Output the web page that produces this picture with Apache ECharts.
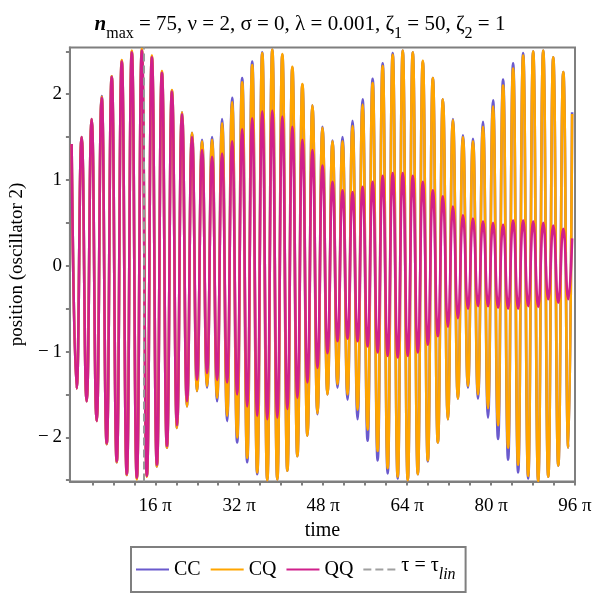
<!DOCTYPE html>
<html>
<head>
<meta charset="utf-8">
<script src="https://cdn.jsdelivr.net/npm/echarts@6/dist/echarts.min.js"></script>
<style>
html, body { margin: 0; padding: 0; background: #fff; }
#chart { width: 600px; height: 600px; }
</style>
</head>
<body>
<div id="chart"></div>
<script>
// time is in units of pi; each series is given by its successive maxima / minima
var halfPeriod = 0.9563;
var tFirst = 0.05;
var tLast = 95.45;      // last sample (curve ends while rising)
var tauLin = 13.74;     // dashed marker

var ccPeaks = [1.42, 1.50, 1.71, 1.98, 2.21, 2.39, 2.50, 2.52, 2.44, 2.26,
               2.04, 1.79, 1.55, 1.47, 1.50, 1.71, 1.96, 2.19, 2.38, 2.49,
               2.52, 2.46, 2.31, 2.11, 1.87, 1.62, 1.46, 1.50, 1.69, 1.94,
               2.18, 2.36, 2.48, 2.51, 2.49, 2.38, 2.19, 1.94, 1.71, 1.52,
               1.48, 1.68, 1.93, 2.17, 2.36, 2.48, 2.50, 2.51, 2.43, 2.26,
               1.79];
var ccTroughs = [-1.43, -1.58, -1.81, -2.08, -2.29, -2.44, -2.48, -2.45, -2.34, -2.12,
                 -1.89, -1.64, -1.46, -1.42, -1.58, -1.81, -2.06, -2.29, -2.43, -2.50,
                 -2.49, -2.39, -2.22, -1.98, -1.73, -1.50, -1.42, -1.56, -1.79, -2.04,
                 -2.27, -2.42, -2.48, -2.50, -2.43, -2.28, -2.06, -1.79, -1.55, -1.42,
                 -1.55, -1.77, -2.02, -2.26, -2.41, -2.48, -2.51, -2.46, -2.33, -2.12];

var cqPeaks = [1.42, 1.50, 1.71, 1.97, 2.21, 2.40, 2.51, 2.53, 2.45, 2.27,
               2.05, 1.79, 1.55, 1.45, 1.47, 1.66, 1.91, 2.14, 2.34, 2.48,
               2.52, 2.47, 2.32, 2.12, 1.87, 1.61, 1.45, 1.45, 1.63, 1.88,
               2.13, 2.33, 2.46, 2.51, 2.49, 2.39, 2.19, 1.94, 1.70, 1.50,
               1.45, 1.62, 1.86, 2.10, 2.30, 2.45, 2.50, 2.51, 2.43, 2.26,
               1.77];
var cqTroughs = [-1.43, -1.58, -1.81, -2.08, -2.29, -2.44, -2.49, -2.46, -2.34, -2.12,
                 -1.89, -1.64, -1.46, -1.40, -1.54, -1.75, -2.00, -2.24, -2.41, -2.50,
                 -2.49, -2.39, -2.22, -1.98, -1.72, -1.50, -1.38, -1.50, -1.68, -1.91,
                 -2.16, -2.36, -2.46, -2.50, -2.43, -2.27, -2.06, -1.79, -1.55, -1.40,
                 -1.50, -1.66, -1.86, -2.12, -2.32, -2.45, -2.51, -2.46, -2.33, -2.12];

var qqPeaks = [1.42, 1.50, 1.71, 1.96, 2.20, 2.38, 2.49, 2.51, 2.43, 2.25,
               2.03, 1.77, 1.50, 1.35, 1.27, 1.31, 1.45, 1.59, 1.72, 1.80,
               1.81, 1.74, 1.62, 1.47, 1.35, 1.17, 0.98, 0.88, 0.86, 0.92,
               0.98, 1.05, 1.08, 1.08, 1.05, 0.98, 0.88, 0.81, 0.69, 0.59,
               0.55, 0.52, 0.50, 0.48, 0.53, 0.53, 0.52, 0.50, 0.47, 0.43,
               0.32];
var qqTroughs = [-1.43, -1.58, -1.81, -2.07, -2.28, -2.43, -2.47, -2.45, -2.32, -2.10,
                 -1.86, -1.58, -1.33, -1.25, -1.33, -1.36, -1.50, -1.64, -1.75, -1.79,
                 -1.77, -1.67, -1.54, -1.36, -1.19, -1.02, -0.88, -0.85, -0.88, -0.94,
                 -1.01, -1.05, -1.07, -1.05, -1.01, -0.92, -0.82, -0.71, -0.61, -0.50,
                 -0.47, -0.47, -0.49, -0.50, -0.50, -0.47, -0.48, -0.39, -0.43, -0.39];

var xTicks = [4, 8, 12, 16, 20, 24, 28, 32, 36, 40, 44, 48, 52, 56, 60, 64, 68, 72, 76, 80, 84, 88, 92, 96];
var xLabels = [16, 32, 48, 64, 80, 96];
var yTicks = [-2.5, -2, -1.5, -1, -0.5, 0, 0.5, 1, 1.5, 2, 2.5];
var yLabels = [-2, -1, 0, 1, 2];

var serif = '"Liberation Serif", "DejaVu Serif", serif';
var axisGrey = '#7f7f7f';
var tauName = 'τ = τ_lin';

function buildPoints(peaks, troughs) {
    var pts = [];
    for (var k = 0; k < troughs.length; k++) {
        pts.push([tFirst + 2 * k * halfPeriod, peaks[k]]);
        pts.push([tFirst + (2 * k + 1) * halfPeriod, troughs[k]]);
    }
    pts.push([tLast, peaks[peaks.length - 1]]);
    return pts;
}

function curve(name, color, peaks, troughs) {
    return {
        name: name,
        type: 'line',
        data: buildPoints(peaks, troughs),
        symbol: 'none',
        smooth: 0.5,
        smoothMonotone: 'x',
        lineStyle: { color: color, width: 2.6 },
        itemStyle: { color: color },
        emphasis: { disabled: true }
    };
}

var chart = echarts.init(document.getElementById('chart'), null, { renderer: 'canvas' });

var option = {
    animation: false,
    backgroundColor: '#fff',
    title: {
        left: 'center',
        top: 9,
        text: '{n|n}{s|max}{t| = 75, ν = 2, σ = 0, λ = 0.001, ζ}{s|1}{t| = 50, ζ}{s|2}{t| = 1}',
        textStyle: {
            fontWeight: 'normal',
            rich: {
                n: { fontFamily: serif, fontSize: 21, fontStyle: 'italic', fontWeight: 'bold', color: '#000', verticalAlign: 'top' },
                t: { fontFamily: serif, fontSize: 21, fontWeight: 'normal', color: '#000', verticalAlign: 'top' },
                s: { fontFamily: serif, fontSize: 16, fontWeight: 'normal', color: '#000', verticalAlign: 'top', padding: [12, 0, 0, 0] }
            }
        }
    },
    grid: {
        left: 68, right: 25, top: 47.5, bottom: 118.5,
        show: true, borderColor: axisGrey, borderWidth: 2, backgroundColor: 'transparent'
    },
    legend: {
        left: 131, top: 547,
        data: ['CC', 'CQ', 'QQ', tauName],
        itemWidth: 33, itemHeight: 12, itemGap: 9,
        padding: [9, 10, 9, 4],
        borderColor: axisGrey, borderWidth: 2,
        lineStyle: { width: 2 },
        itemStyle: { opacity: 0 },
        selectedMode: false,
        formatter: function (name) {
            if (name === tauName) return '{a|τ = τ}{i|lin}';
            return '{a|' + name + '}';
        },
        textStyle: {
            rich: {
                a: { fontFamily: serif, fontSize: 20, color: '#000', verticalAlign: 'top' },
                i: { fontFamily: serif, fontSize: 16, fontStyle: 'italic', color: '#000', verticalAlign: 'top', padding: [11, 0, 0, 0] }
            }
        }
    },
    xAxis: {
        type: 'value',
        min: -0.27, max: 96,
        name: 'time',
        nameLocation: 'middle',
        nameGap: 38,
        nameTextStyle: { fontFamily: serif, fontSize: 20, color: '#000' },
        axisLine: { onZero: false, lineStyle: { color: axisGrey, width: 2 } },
        axisTick: { show: true, inside: false, length: 4, customValues: xTicks, lineStyle: { color: axisGrey, width: 2 } },
        axisLabel: {
            customValues: xLabels,
            margin: 15,
            fontFamily: serif, fontSize: 19, color: '#000',
            formatter: function (v) { return v + ' π'; }
        },
        splitLine: { show: false }
    },
    yAxis: {
        type: 'value',
        min: -2.515, max: 2.545,
        name: 'position (oscillator 2)',
        nameLocation: 'middle',
        nameGap: 36,
        nameRotate: 90,
        nameTextStyle: { fontFamily: serif, fontSize: 19, color: '#000' },
        axisLine: { onZero: false, lineStyle: { color: axisGrey, width: 2 } },
        axisTick: { show: true, inside: false, length: 4, customValues: yTicks, lineStyle: { color: axisGrey, width: 2 } },
        axisLabel: {
            customValues: yLabels,
            margin: 8,
            fontFamily: serif, fontSize: 19, color: '#000',
            formatter: function (v) { return v < 0 ? '−\u2009' + Math.abs(v) : String(v); }
        },
        splitLine: { show: false }
    },
    series: [
        curve('CC', '#6a5acd', ccPeaks, ccTroughs),
        curve('CQ', '#ffa500', cqPeaks, cqTroughs),
        curve('QQ', '#d0208b', qqPeaks, qqTroughs),
        {
            name: tauName,
            type: 'line',
            data: [],
            symbol: 'none',
            lineStyle: { color: '#a0a0a0', width: 2, type: [8, 4] },
            itemStyle: { color: '#a0a0a0' },
            markLine: {
                silent: true,
                symbol: 'none',
                label: { show: false },
                lineStyle: { color: '#999999', width: 2, type: [8, 4] },
                data: [{ xAxis: tauLin }]
            }
        }
    ]
};

chart.setOption(option);
</script>
</body>
</html>
